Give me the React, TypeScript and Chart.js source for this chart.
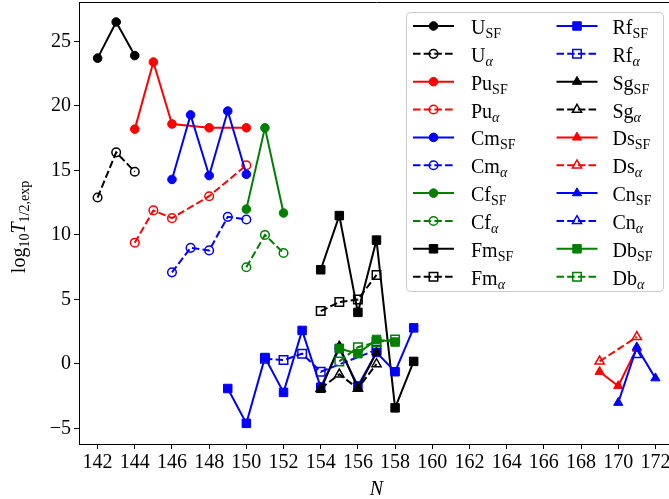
import React, { useEffect, useRef } from "react";
import { Chart, registerables } from "chart.js";
Chart.register(...registerables);

const FONT = '"Liberation Serif", "DejaVu Serif", serif';

const xTicks = [142, 144, 146, 148, 150, 152, 154, 156, 158, 160, 162, 164, 166, 168, 170, 172];
const yTicks = [-5, 0, 5, 10, 15, 20, 25];

const U_SF_N = [142, 143, 144];
const U_SF = [23.7, 26.5, 23.9];
const U_A_N = [142, 143, 144];
const U_A = [12.9, 16.4, 14.9];
const Pu_SF_N = [144, 145, 146, 148, 150];
const Pu_SF = [18.2, 23.4, 18.6, 18.3, 18.3];
const Pu_A_N = [144, 145, 146, 148, 150];
const Pu_A = [9.4, 11.9, 11.3, 13.0, 15.4];
const Cm_SF_N = [146, 147, 148, 149, 150];
const Cm_SF = [14.3, 19.3, 14.6, 19.6, 14.7];
const Cm_A_N = [146, 147, 148, 149, 150];
const Cm_A = [7.1, 9.0, 8.8, 11.4, 11.2];
const Cf_SF_N = [150, 151, 152];
const Cf_SF = [12.0, 18.3, 11.7];
const Cf_A_N = [150, 151, 152];
const Cf_A = [7.5, 10.0, 8.6];
const Fm_SF_N = [154, 155, 156, 157, 158, 159];
const Fm_SF = [7.3, 11.5, 4.0, 9.6, -3.4, 0.2];
const Fm_A_N = [154, 155, 156, 157];
const Fm_A = [4.1, 4.8, 5.0, 6.9];
const Rf_SF_N = [149, 150, 151, 152, 153, 154, 155, 156, 157, 158, 159];
const Rf_SF = [-1.9, -4.6, 0.5, -2.2, 2.6, -1.8, 1.2, -1.7, 0.9, -0.6, 2.8];
const Rf_A_N = [151, 152, 153, 154, 157];
const Rf_A = [0.4, 0.3, 0.8, -0.6, 1.1];
const Sg_SF_N = [154, 155, 156, 157];
const Sg_SF = [-2.0, 1.4, -1.9, 0.9];
const Sg_A_N = [154, 155, 156, 157];
const Sg_A = [-1.9, -0.8, -1.9, 0.0];
const Ds_SF_N = [169, 170, 171];
const Ds_SF = [-0.6, -1.7, 1.2];
const Ds_A_N = [169, 171];
const Ds_A = [0.2, 2.1];
const Cn_SF_N = [170, 171, 172];
const Cn_SF = [-3.0, 1.3, -1.1];
const Cn_A_N = [171];
const Cn_A = [0.7];
const Db_SF_N = [155, 156, 157, 158];
const Db_SF = [1.2, 0.8, 1.9, 1.7];
const Db_A_N = [155, 156, 157, 158];
const Db_A = [0.2, 1.3, 1.7, 1.9];

type Series = {
  name: string;
  sub: string;
  color: string;
  shape: "circle" | "rect" | "triangle";
  filled: boolean;
  n: number[];
  v: number[];
};

const BLACK = "#000000";
const RED = "#ff0000";
const BLUE = "#0000ff";
const GREEN = "#008000";

const SERIES: Series[] = [
  { name: "U", sub: "SF", color: BLACK, shape: "circle", filled: true, n: U_SF_N, v: U_SF },
  { name: "U", sub: "α", color: BLACK, shape: "circle", filled: false, n: U_A_N, v: U_A },
  { name: "Pu", sub: "SF", color: RED, shape: "circle", filled: true, n: Pu_SF_N, v: Pu_SF },
  { name: "Pu", sub: "α", color: RED, shape: "circle", filled: false, n: Pu_A_N, v: Pu_A },
  { name: "Cm", sub: "SF", color: BLUE, shape: "circle", filled: true, n: Cm_SF_N, v: Cm_SF },
  { name: "Cm", sub: "α", color: BLUE, shape: "circle", filled: false, n: Cm_A_N, v: Cm_A },
  { name: "Cf", sub: "SF", color: GREEN, shape: "circle", filled: true, n: Cf_SF_N, v: Cf_SF },
  { name: "Cf", sub: "α", color: GREEN, shape: "circle", filled: false, n: Cf_A_N, v: Cf_A },
  { name: "Fm", sub: "SF", color: BLACK, shape: "rect", filled: true, n: Fm_SF_N, v: Fm_SF },
  { name: "Fm", sub: "α", color: BLACK, shape: "rect", filled: false, n: Fm_A_N, v: Fm_A },
  { name: "Rf", sub: "SF", color: BLUE, shape: "rect", filled: true, n: Rf_SF_N, v: Rf_SF },
  { name: "Rf", sub: "α", color: BLUE, shape: "rect", filled: false, n: Rf_A_N, v: Rf_A },
  { name: "Sg", sub: "SF", color: BLACK, shape: "triangle", filled: true, n: Sg_SF_N, v: Sg_SF },
  { name: "Sg", sub: "α", color: BLACK, shape: "triangle", filled: false, n: Sg_A_N, v: Sg_A },
  { name: "Ds", sub: "SF", color: RED, shape: "triangle", filled: true, n: Ds_SF_N, v: Ds_SF },
  { name: "Ds", sub: "α", color: RED, shape: "triangle", filled: false, n: Ds_A_N, v: Ds_A },
  { name: "Cn", sub: "SF", color: BLUE, shape: "triangle", filled: true, n: Cn_SF_N, v: Cn_SF },
  { name: "Cn", sub: "α", color: BLUE, shape: "triangle", filled: false, n: Cn_A_N, v: Cn_A },
  { name: "Db", sub: "SF", color: GREEN, shape: "rect", filled: true, n: Db_SF_N, v: Db_SF },
  { name: "Db", sub: "α", color: GREEN, shape: "rect", filled: false, n: Db_A_N, v: Db_A },
];

const RADIUS = { circle: 4.3, rect: 6.0, triangle: 5.3 };
const DASH = [7.5, 3.2];

function drawMarker(ctx: CanvasRenderingContext2D, s: Series, x: number, y: number) {
  const r = RADIUS[s.shape];
  ctx.beginPath();
  if (s.shape === "circle") {
    ctx.arc(x, y, r, 0, Math.PI * 2);
  } else if (s.shape === "rect") {
    const h = r * Math.SQRT1_2;
    ctx.rect(x - h, y - h, 2 * h, 2 * h);
  } else {
    ctx.moveTo(x, y - r);
    ctx.lineTo(x + Math.sin((2 * Math.PI) / 3) * r, y - Math.cos((2 * Math.PI) / 3) * r);
    ctx.lineTo(x + Math.sin((4 * Math.PI) / 3) * r, y - Math.cos((4 * Math.PI) / 3) * r);
    ctx.closePath();
  }
  ctx.setLineDash([]);
  ctx.lineWidth = s.filled ? 1 : 1.5;
  ctx.strokeStyle = s.color;
  if (s.filled) {
    ctx.fillStyle = s.color;
    ctx.fill();
  }
  ctx.stroke();
}

type Run = { t: string; size: number; italic?: boolean; dy?: number };

function runsWidth(ctx: CanvasRenderingContext2D, runs: Run[]) {
  let w = 0;
  for (const r of runs) {
    ctx.font = `${r.italic ? "italic " : ""}${r.size}px ${FONT}`;
    w += ctx.measureText(r.t).width;
  }
  return w;
}

function drawRuns(ctx: CanvasRenderingContext2D, runs: Run[], x: number, y: number) {
  let cx = x;
  for (const r of runs) {
    ctx.font = `${r.italic ? "italic " : ""}${r.size}px ${FONT}`;
    ctx.fillText(r.t, cx, y + (r.dy || 0));
    cx += ctx.measureText(r.t).width;
  }
}

const overlayPlugin = {
  id: "overlay",
  afterDraw(chart: any) {
    const ctx: CanvasRenderingContext2D = chart.ctx;
    const a = chart.chartArea;
    ctx.save();
    ctx.setLineDash([]);
    ctx.strokeStyle = "#000";
    ctx.lineWidth = 1;
    ctx.beginPath();
    ctx.moveTo(a.left, a.top + 0.5);
    ctx.lineTo(a.right, a.top + 0.5);
    ctx.moveTo(a.right - 0.5, a.top);
    ctx.lineTo(a.right - 0.5, a.bottom);
    ctx.stroke();

    ctx.fillStyle = "#000";
    ctx.textAlign = "left";
    ctx.textBaseline = "alphabetic";

    // x title
    const xr: Run[] = [{ t: "N", size: 20, italic: true }];
    const xw = runsWidth(ctx, xr);
    drawRuns(ctx, xr, (a.left + a.right) / 2 - xw / 2, 495);

    // y title
    const yr: Run[] = [
      { t: "log", size: 20 },
      { t: "10", size: 14, dy: 4 },
      { t: "T", size: 20, italic: true },
      { t: "1/2,exp", size: 14, dy: 4 },
    ];
    const yw = runsWidth(ctx, yr);
    ctx.save();
    ctx.translate(25, (a.top + a.bottom) / 2 + 4);
    ctx.rotate(-Math.PI / 2);
    drawRuns(ctx, yr, -yw / 2, 0);
    ctx.restore();

    // legend
    const lx = 406.5, ly = 12.5, lw = 257, lh = 279;
    ctx.beginPath();
    (ctx as any).roundRect(lx, ly, lw, lh, 4);
    ctx.fillStyle = "rgba(255,255,255,0.8)";
    ctx.fill();
    ctx.strokeStyle = "#cccccc";
    ctx.lineWidth = 1;
    ctx.stroke();

    const cols = [
      { l1: 413, l2: 454, tx: 471 },
      { l1: 556.5, l2: 597.5, tx: 612.5 },
    ];
    SERIES.forEach((s, i) => {
      const col = cols[Math.floor(i / 10)];
      const row = i % 10;
      const y = 26 + row * 27.85;
      ctx.save();
      ctx.strokeStyle = s.color;
      ctx.lineWidth = 2;
      ctx.setLineDash(s.filled ? [] : DASH);
      ctx.beginPath();
      ctx.moveTo(col.l1, y);
      ctx.lineTo(col.l2, y);
      ctx.stroke();
      ctx.restore();
      drawMarker(ctx, s, (col.l1 + col.l2) / 2, y);
      ctx.fillStyle = "#000";
      drawRuns(
        ctx,
        [
          { t: s.name, size: 20 },
          { t: s.sub, size: 14, dy: 4, italic: s.sub === "α" },
        ],
        col.tx,
        y + 8
      );
    });
    ctx.restore();
  },
};

function zeroPad(s: any) {
  s.paddingTop = 0;
  s.paddingBottom = 0;
  s.paddingLeft = 0;
  s.paddingRight = 0;
}

export default function App() {
  const ref = useRef<HTMLCanvasElement>(null);
  useEffect(() => {
    if (!ref.current) return;
    const datasets = SERIES.map((s, i) => ({
      label: s.name + s.sub,
      data: s.n.map((n, j) => ({ x: n, y: s.v[j] })),
      borderColor: s.color,
      backgroundColor: s.color,
      borderWidth: 2,
      borderDash: s.filled ? [] : DASH,
      pointStyle: s.shape,
      pointRadius: RADIUS[s.shape],
      pointHoverRadius: RADIUS[s.shape],
      pointBackgroundColor: s.filled ? s.color : "rgba(0,0,0,0)",
      pointBorderColor: s.color,
      pointBorderWidth: s.filled ? 1 : 1.5,
      tension: 0,
      fill: false,
      order: -i,
      clip: false as any,
    }));
    const chart = new Chart(ref.current, {
      type: "line",
      data: { datasets },
      plugins: [overlayPlugin],
      options: {
        animation: false,
        responsive: false,
        events: [],
        layout: { autoPadding: false, padding: { top: 2, left: 0, right: 0, bottom: 0 } },
        plugins: { legend: { display: false }, tooltip: { enabled: false } },
        scales: {
          x: {
            type: "linear",
            min: 141,
            max: 173,
            afterBuildTicks: (s: any) => {
              s.ticks = xTicks.map((v) => ({ value: v }));
            },
            afterFit: (s: any) => {
              s.height = 55;
              zeroPad(s);
            },
            ticks: {
              font: { family: FONT, size: 20 },
              color: "#000",
              padding: 2,
              maxRotation: 0,
              autoSkip: false,
            },
            grid: { drawOnChartArea: false, drawTicks: true, tickLength: 5, tickColor: "#000", tickWidth: 1 },
            border: { display: true, color: "#000", width: 1 },
          },
          y: {
            type: "linear",
            min: -6.2,
            max: 28.05,
            afterBuildTicks: (s: any) => {
              s.ticks = yTicks.map((v) => ({ value: v }));
            },
            afterFit: (s: any) => {
              s.width = 79;
              zeroPad(s);
            },
            ticks: {
              font: { family: FONT, size: 20 },
              color: "#000",
              padding: 3,
              callback: (v: any) => (Number(v) < 0 ? "\u2212" + Math.abs(Number(v)) : String(v)),
            },
            grid: { drawOnChartArea: false, drawTicks: true, tickLength: 5, tickColor: "#000", tickWidth: 1 },
            border: { display: true, color: "#000", width: 1 },
          },
        },
      },
    });
    return () => chart.destroy();
  }, []);
  return (
    <div
      style={{
        position: "fixed",
        left: 0,
        top: 0,
        width: 669,
        height: 499,
        overflow: "hidden",
        background: "#fff",
      }}
    >
      <canvas ref={ref} width={674} height={499} style={{ display: "block", width: 674, height: 499 }} />
    </div>
  );
}
